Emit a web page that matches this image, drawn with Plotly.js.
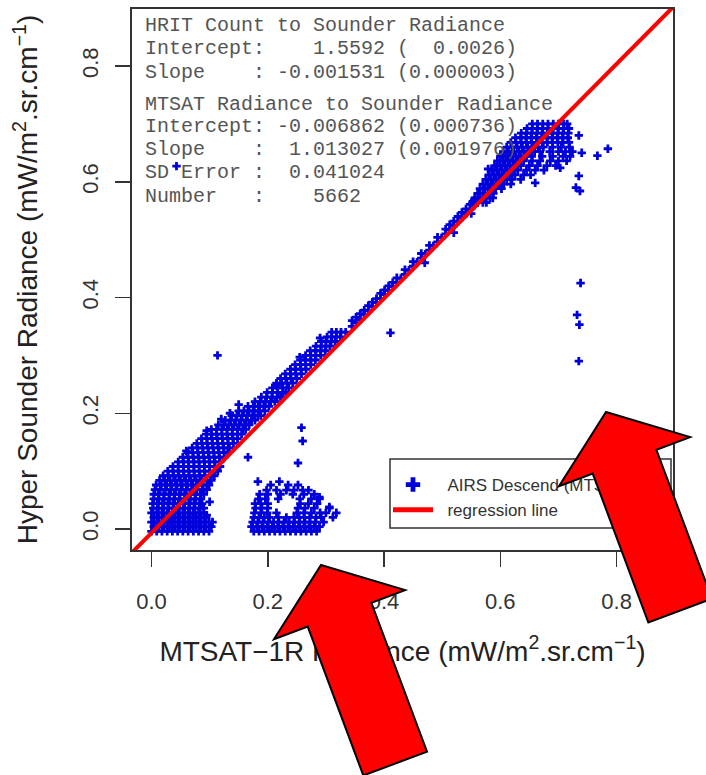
<!DOCTYPE html>
<html><head><meta charset="utf-8">
<script src="https://cdn.plot.ly/plotly-3.0.1.min.js"></script>
<style>body{margin:0;background:#fff}#chart{width:706px;height:775px}</style>
</head><body><div id="chart"></div>
<script>
// ---------- DATA ----------
// rows: [y, [x, x, ...]]
const lowBlobRows = [
 [-0.004,[0.000,0.009,0.018,0.027,0.036,0.045,0.054,0.063,0.072,0.081,0.090,0.099]],
 [0.004,[0.004,0.013,0.022,0.031,0.040,0.049,0.058,0.067,0.076,0.085,0.094,0.103]],
 [0.012,[0.000,0.009,0.018,0.027,0.036,0.045,0.054,0.063,0.072,0.081,0.090,0.099,0.105]],
 [0.020,[0.004,0.013,0.022,0.031,0.040,0.049,0.058,0.067,0.076,0.085,0.094]],
 [0.028,[0.000,0.009,0.018,0.027,0.036,0.045,0.054,0.063,0.072,0.081,0.090]],
 [0.036,[0.003,0.012,0.021,0.030,0.039,0.048,0.057,0.066,0.075,0.084,0.090]],
 [0.044,[0.002,0.010,0.019,0.028,0.037,0.046,0.055,0.064,0.073,0.082,0.087]],
 [0.052,[0.004,0.013,0.022,0.031,0.040,0.049,0.058,0.067,0.076,0.085]],
 [0.060,[0.004,0.012,0.021,0.030,0.039,0.048,0.057,0.066,0.075,0.084,0.090]],
 [0.068,[0.006,0.015,0.024,0.033,0.042,0.051,0.060,0.069,0.078,0.087,0.095]],
 [0.076,[0.008,0.017,0.026,0.035,0.044,0.053,0.062,0.071,0.080,0.089,0.099]],
 [0.084,[0.014,0.023,0.032,0.041,0.050,0.059,0.068,0.077,0.086,0.095,0.103]],
 [0.092,[0.020,0.029,0.038,0.047,0.056,0.065,0.074,0.083,0.092,0.101,0.108]],
 [0.100,[0.028,0.037,0.046,0.055,0.064,0.073,0.082,0.091,0.100,0.109,0.114]],
 [0.108,[0.037,0.046,0.055,0.064,0.073,0.082,0.091,0.100,0.109,0.118]]
];
const lowBandRows = [
 [0.116,[0.046,0.055,0.064,0.073,0.082,0.091,0.100,0.109,0.118]],
 [0.124,[0.054,0.063,0.072,0.081,0.090,0.099,0.108,0.117,0.125]],
 [0.132,[0.062,0.071,0.080,0.089,0.098,0.107,0.116,0.125,0.131]],
 [0.140,[0.070,0.079,0.088,0.097,0.106,0.115,0.124,0.134]],
 [0.148,[0.078,0.087,0.096,0.105,0.114,0.123,0.132,0.141]],
 [0.156,[0.086,0.095,0.104,0.113,0.122,0.131,0.140,0.148]],
 [0.164,[0.094,0.103,0.112,0.121,0.130,0.139,0.148,0.155]],
 [0.172,[0.103,0.112,0.121,0.130,0.139,0.148,0.157,0.162]],
 [0.180,[0.115,0.124,0.133,0.142,0.151,0.160,0.168]],
 [0.188,[0.127,0.136,0.145,0.154,0.163,0.172,0.178]],
 [0.196,[0.138,0.147,0.156,0.165,0.174,0.183,0.188]],
 [0.204,[0.150,0.159,0.168,0.177,0.186,0.195]],
 [0.212,[0.166,0.175,0.184,0.193,0.202]],
 [0.220,[0.178,0.187,0.196,0.205,0.212]],
 [0.228,[0.189,0.198,0.207,0.216,0.222]],
 [0.236,[0.199,0.208,0.217,0.226,0.231]],
 [0.244,[0.208,0.217,0.226,0.236]],
 [0.252,[0.215,0.224,0.233,0.243]],
 [0.260,[0.222,0.231,0.240,0.250]],
 [0.268,[0.230,0.239,0.248,0.258]],
 [0.276,[0.239,0.248,0.257,0.266]],
 [0.284,[0.247,0.256,0.265,0.274]],
 [0.292,[0.256,0.265,0.274,0.282]],
 [0.300,[0.265,0.274,0.283,0.291]],
 [0.308,[0.273,0.282,0.291,0.299]],
 [0.316,[0.283,0.292,0.300,0.307]],
 [0.324,[0.292,0.300,0.309,0.316]],
 [0.332,[0.302,0.310,0.318,0.325]],
 [0.340,[0.310,0.318,0.326,0.334]]
];
// [x, y]
const midBandPts = [
 [0.345,0.350],[0.345,0.360],[0.352,0.356],[0.352,0.366],[0.359,0.362],[0.359,0.372],[0.366,0.370],[0.366,0.378],
 [0.373,0.377],[0.373,0.386],[0.380,0.384],[0.380,0.392],[0.387,0.391],[0.387,0.398],[0.394,0.398],[0.394,0.407],
 [0.401,0.405],[0.401,0.413],[0.408,0.412],[0.408,0.420],[0.415,0.419],[0.415,0.426],[0.422,0.426],[0.422,0.434],
 [0.429,0.433],[0.436,0.440],[0.436,0.448],[0.443,0.447],[0.450,0.454],[0.450,0.462],[0.457,0.461],[0.464,0.468],
 [0.464,0.476],[0.471,0.475],[0.478,0.482],[0.478,0.490],[0.485,0.489],[0.492,0.496],[0.492,0.504],[0.499,0.503],
 [0.506,0.510],[0.506,0.518],[0.513,0.517],[0.513,0.526],[0.520,0.524],[0.520,0.532],[0.527,0.531],[0.527,0.540],
 [0.534,0.538],[0.534,0.547],[0.541,0.545],[0.541,0.553],[0.548,0.552],[0.548,0.561],[0.555,0.559],[0.555,0.568],
 [0.470,0.460],[0.520,0.512],[0.550,0.545]
];
const highBlobRows = [
 [0.700,[0.655,0.664,0.673,0.682,0.691,0.700,0.709,0.715]],
 [0.692,[0.646,0.655,0.664,0.673,0.682,0.691,0.700,0.709,0.718]],
 [0.684,[0.636,0.645,0.654,0.663,0.672,0.681,0.690,0.699,0.708,0.717]],
 [0.676,[0.626,0.635,0.644,0.653,0.662,0.671,0.680,0.689,0.698,0.707,0.716]],
 [0.668,[0.618,0.627,0.636,0.645,0.654,0.663,0.672,0.681,0.690,0.699,0.708,0.718]],
 [0.660,[0.611,0.620,0.629,0.638,0.647,0.656,0.665,0.674,0.690,0.705,0.719]],
 [0.652,[0.605,0.614,0.623,0.632,0.641,0.650,0.659,0.668,0.685,0.700,0.712,0.724]],
 [0.644,[0.600,0.609,0.618,0.627,0.636,0.645,0.654,0.672,0.690,0.708,0.720]],
 [0.636,[0.595,0.604,0.613,0.622,0.631,0.640,0.655,0.668,0.686,0.700,0.714]],
 [0.628,[0.590,0.599,0.608,0.617,0.626,0.635,0.650,0.664,0.680,0.695]],
 [0.620,[0.585,0.594,0.603,0.612,0.621,0.630,0.645,0.660,0.675]],
 [0.612,[0.580,0.589,0.598,0.607,0.616,0.625,0.640,0.652]],
 [0.604,[0.575,0.584,0.593,0.602,0.611,0.620,0.635]],
 [0.596,[0.570,0.579,0.588,0.597,0.606,0.618]],
 [0.588,[0.565,0.574,0.583,0.592,0.602]],
 [0.580,[0.561,0.570,0.579,0.588]],
 [0.572,[0.556,0.565,0.574,0.582]],
 [0.564,[0.552,0.561,0.570,0.576]]
];
const offClusterRows = [
 [-0.004,[0.176,0.185,0.194,0.203,0.212,0.221,0.230,0.239,0.248,0.257,0.266,0.275,0.284]],
 [0.004,[0.172,0.181,0.190,0.199,0.208,0.217,0.226,0.235,0.244,0.253,0.262,0.271,0.280,0.289]],
 [0.012,[0.174,0.183,0.192,0.201,0.210,0.219,0.228,0.237,0.246,0.255,0.264,0.273,0.282,0.296]],
 [0.020,[0.176,0.185,0.194,0.203,0.218,0.232,0.245,0.254,0.263,0.272,0.283,0.292]],
 [0.028,[0.177,0.188,0.199,0.215,0.250,0.262,0.275,0.290,0.300]],
 [0.036,[0.179,0.190,0.200,0.252,0.264,0.280,0.306]],
 [0.044,[0.178,0.188,0.200,0.256,0.270,0.285]],
 [0.052,[0.184,0.196,0.218,0.255,0.275,0.289]],
 [0.060,[0.186,0.200,0.222,0.243,0.262,0.280]],
 [0.067,[0.198,0.215,0.232,0.245,0.260,0.270]],
 [0.076,[0.205,0.235,0.252]],
 [0.082,[0.183,0.220]]
];
const strayPts = [
 [0.1136,0.300],[0.043,0.627],[0.738,0.425],[0.732,0.370],[0.736,0.353],[0.735,0.290],
 [0.258,0.175],[0.260,0.152],[0.252,0.114],[0.166,0.124],[0.411,0.339],
 [0.735,0.680],[0.785,0.657],[0.767,0.645],[0.740,0.650],[0.735,0.610],[0.730,0.590],[0.737,0.584],
 [0.660,0.598],[0.703,0.624],[0.579,0.622],[0.587,0.572],
 [0.255,0.297],[0.290,0.330],[0.215,0.248],[0.095,0.170],[0.120,0.190],[0.150,0.215],[0.060,0.135],[0.135,0.200],
 [0.318,0.028],[0.306,0.038],[0.289,0.055],[0.312,0.020],[0.100,0.047],[0.095,0.024]
];
const regIntercept = -0.006862;
const regSlope = 1.013027;
const statLines = [
 "HRIT Count to Sounder Radiance",
 "Intercept:    1.5592 (  0.0026)",
 "Slope    : -0.001531 (0.000003)",
 "MTSAT Radiance to Sounder Radiance",
 "Intercept: -0.006862 (0.000736)",
 "Slope    :  1.013027 (0.001976)",
 "SD Error :  0.041024",
 "Number   :    5662"
];
const tickVals = [0, 0.2, 0.4, 0.6, 0.8];
const tickText = ["0.0", "0.2", "0.4", "0.6", "0.8"];
const seriesName = "AIRS Descend (MTSAT)";
const lineName = "regression line";

// ---------- BUILD ----------
const X = [], Y = [];
function addRows(rows){ rows.forEach(r => r[1].forEach(x => { X.push(x); Y.push(r[0]); })); }
function addPts(pts){ pts.forEach(p => { X.push(p[0]); Y.push(p[1]); }); }
addRows(lowBlobRows); addRows(lowBandRows); addPts(midBandPts); addRows(highBlobRows); addRows(offClusterRows); addPts(strayPts);

const xRange = [-0.0335, 0.897], yRange = [-0.0363, 0.8985];
const lineX = [xRange[0] - 0.05, xRange[1] + 0.05];
const lineY = lineX.map(x => regIntercept + regSlope * x);

// layout geometry (pixels)
const L = 132, R = 673, T = 9, B = 550, W = R - L, H = B - T;
const toPX = px => (px - L) / W, toPY = py => (B - py) / H;
const statRowsPx = [25, 48, 72, 104, 127, 150, 173, 196];
const nb = s => s.replace(/ /g, '\u00A0');
const monoFont = {family: 'Courier New, Liberation Mono, monospace', size: 20, color: '#555'};

const ptsTrace = {
  type: 'scatter', mode: 'markers', name: '\u00A0\u00A0' + seriesName, x: X, y: Y,
  marker: {symbol: 'cross', size: 7, color: '#0000dd', line: {width: 0}}
};
const lineTrace = {
  type: 'scatter', mode: 'lines', name: '\u00A0\u00A0' + lineName, x: lineX, y: lineY,
  line: {color: '#ff0000', width: 4}
};

function arrowPath(tx, ty, len){
  const dx = 0.35, dy = 0.937, n = Math.hypot(dx, dy), ux = dx/n, uy = dy/n, qx = uy, qy = -ux;
  const Lh = 53, Wh = 70, Ws = 34;
  const p = [[tx,ty],[tx+Lh*ux+Wh*qx,ty+Lh*uy+Wh*qy],[tx+Lh*ux+Ws*qx,ty+Lh*uy+Ws*qy],
    [tx+len*ux+Ws*qx,ty+len*uy+Ws*qy],[tx+len*ux-Ws*qx,ty+len*uy-Ws*qy],
    [tx+Lh*ux-Ws*qx,ty+Lh*uy-Ws*qy],[tx+Lh*ux-Wh*qx,ty+Lh*uy-Wh*qy]];
  return 'M' + p.map(q => toPX(q[0]).toFixed(4) + ',' + toPY(q[1]).toFixed(4)).join('L') + 'Z';
}

const sansTitle = {family: 'Liberation Sans, Arial, sans-serif', size: 28, color: '#222'};
const axisCommon = {
  tickvals: tickVals, ticktext: tickText, ticks: 'outside', ticklen: 15, tickwidth: 1.5,
  tickcolor: '#333', showline: true, mirror: true, linecolor: '#333', linewidth: 2,
  showgrid: false, zeroline: false, fixedrange: true,
  tickfont: {family: 'Liberation Sans, Arial, sans-serif', size: 22, color: '#333'}
};
const layout = {
  width: 706, height: 775, margin: {l: L, r: 706 - R, t: T, b: 775 - B},
  paper_bgcolor: '#fff', plot_bgcolor: '#fff', showlegend: true,
  xaxis: Object.assign({}, axisCommon, {range: xRange, ticklabelstandoff: 16,
    title: {text: 'MTSAT\u22121R Radiance (mW/m<sup>2</sup>.sr.cm<sup>\u22121</sup>)', standoff: 28, font: sansTitle}}),
  yaxis: Object.assign({}, axisCommon, {range: yRange, tickangle: -90, ticklabelstandoff: 8,
    title: {text: 'Hyper Sounder Radiance (mW/m<sup>2</sup>.sr.cm<sup>\u22121</sup>)', standoff: 32, font: sansTitle}}),
  legend: {x: toPX(388), y: toPY(467), xanchor: 'left', yanchor: 'top', bgcolor: 'rgba(0,0,0,0)',
    borderwidth: 0, itemwidth: 40, itemsizing: 'constant',
    font: {family: 'Liberation Sans, Arial, sans-serif', size: 17, color: '#333'}},
  annotations: statLines.map((s, i) => ({
    xref: 'paper', yref: 'paper', x: toPX(143), y: toPY(statRowsPx[i]), xanchor: 'left', yanchor: 'middle',
    text: nb(s), showarrow: false, font: monoFont, align: 'left'
  })),
  shapes: [
    {type: 'rect', xref: 'paper', yref: 'paper', x0: toPX(390), x1: toPX(671), y0: toPY(528), y1: toPY(459),
      line: {color: '#333', width: 1.5}, fillcolor: '#fff', layer: 'below'},
    {type: 'path', xref: 'paper', yref: 'paper', path: arrowPath(321, 565, 212),
      fillcolor: '#ff0000', line: {color: '#000', width: 2}, layer: 'above'},
    {type: 'path', xref: 'paper', yref: 'paper', path: arrowPath(606, 412, 212),
      fillcolor: '#ff0000', line: {color: '#000', width: 2}, layer: 'above'}
  ]
};
Plotly.newPlot('chart', [ptsTrace, lineTrace], layout, {displayModeBar: false, staticPlot: true}).then(gd => {
  const la = gd.querySelector('.layer-above');
  if (la) la.parentNode.appendChild(la);
});
</script>
</body></html>
